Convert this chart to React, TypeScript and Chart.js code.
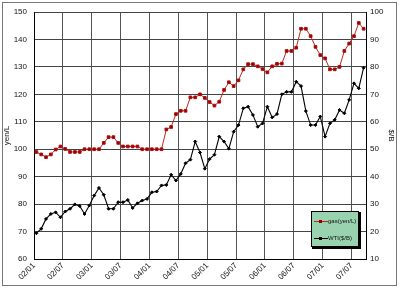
import React, { useEffect, useRef } from "react";
import { Chart, registerables } from "chart.js";

Chart.register(...registerables);

const xLabels = ["02/01", "02/07", "03/01", "03/07", "04/01", "04/07", "05/01", "05/07", "06/01", "06/07", "07/01", "07/07"];

const gasoline = [
  99.0, 98.1, 97.1, 98.1, 99.9, 101.0, 100.1, 99.0, 99.0, 99.0, 100.0, 100.0,
  100.0, 100.0, 102.3, 104.4, 104.4, 102.3, 101.0, 101.0, 101.0, 101.0, 100.0, 100.0,
  100.0, 100.0, 100.0, 107.2, 108.1, 112.8, 114.0, 114.0, 118.9, 118.9, 120.0, 118.7,
  117.2, 115.9, 117.3, 121.6, 124.4, 123.0, 125.1, 129.1, 131.0, 131.0, 130.2, 129.2,
  128.0, 130.2, 131.1, 131.2, 135.8, 135.8, 137.0, 143.9, 143.9, 141.2, 137.3, 134.3,
  133.1, 129.1, 129.1, 130.0, 135.8, 138.5, 141.2, 146.0, 143.9,
];

const wti = [
  19.4, 21.0, 24.6, 26.4, 27.0, 25.2, 27.3, 28.3, 29.9, 29.3, 26.4, 29.5,
  33.1, 35.9, 33.4, 28.3, 28.3, 30.7, 30.7, 31.5, 28.6, 30.3, 31.3, 31.9,
  34.3, 34.6, 36.8, 37.0, 40.7, 38.6, 41.0, 44.9, 46.2, 52.8, 48.8, 42.9,
  46.4, 48.0, 54.6, 52.8, 50.2, 56.4, 58.8, 64.9, 65.5, 62.5, 58.2, 59.4,
  65.5, 61.6, 62.8, 70.0, 70.9, 70.9, 74.6, 73.0, 63.9, 58.8, 58.8, 61.9,
  54.6, 59.4, 60.7, 64.3, 63.1, 68.0, 74.0, 72.2, 79.7,
];

const seriesNames = ["gas(yen/L)", "WTI($/B)"];
const monthsPerTick = 6;

const FONT = "'Liberation Sans', Arial, sans-serif";

export default function App() {
  const ref = useRef<HTMLCanvasElement | null>(null);

  useEffect(() => {
    document.body.style.margin = "0";
    const canvas = ref.current;
    if (!canvas) return;

    const legendPlugin = {
      id: "boxLegend",
      beforeDraw(chart: any) {
        const { ctx, width, height } = chart;
        ctx.save();
        ctx.fillStyle = "#ffffff";
        ctx.fillRect(0, 0, width, height);
        ctx.strokeStyle = "#777";
        ctx.lineWidth = 1;
        ctx.strokeRect(2.5, 2.5, width - 6, height - 6);
        ctx.restore();
      },
      afterDraw(chart: any) {
        const { ctx, chartArea } = chart;
        const w = 48;
        const h = 36;
        const x = chartArea.right - 7 - w;
        const y = chartArea.bottom - 12 - h;
        ctx.save();
        ctx.fillStyle = "#000";
        ctx.fillRect(x + 1, y + 1, w + 1, h + 1);
        ctx.fillStyle = "#98d2ae";
        ctx.fillRect(x, y, w, h);
        ctx.strokeStyle = "#000";
        ctx.lineWidth = 1;
        ctx.strokeRect(x + 0.5, y + 0.5, w - 1, h - 1);
        const rows = [
          { y: y + 10, color: "#c0281c", marker: "#8b0000", name: seriesNames[0] },
          { y: y + 27, color: "#000", marker: "#000", name: seriesNames[1] },
        ];
        rows.forEach((r) => {
          ctx.strokeStyle = r.color;
          ctx.beginPath();
          ctx.moveTo(x + 3, r.y + 0.5);
          ctx.lineTo(x + 17, r.y + 0.5);
          ctx.stroke();
          ctx.fillStyle = r.marker;
          ctx.fillRect(x + 8, r.y - 1, 3, 3);
          ctx.fillStyle = "#111";
          ctx.font = `6px ${FONT}`;
          ctx.textBaseline = "middle";
          ctx.textAlign = "left";
          ctx.fillText(r.name, x + 17, r.y + 0.5);
        });
        ctx.restore();
      },
    };

    const chart = new Chart(canvas, {
      type: "line",
      data: {
        datasets: [
          {
            label: seriesNames[0],
            data: gasoline.map((v, i) => ({ x: i + 0.5, y: v })),
            yAxisID: "y",
            borderColor: "#c0281c",
            backgroundColor: "#8b0000",
            pointBorderColor: "#b01010",
            pointBackgroundColor: "#8b0000",
            borderWidth: 1,
            pointStyle: "rect",
            pointRadius: 1.9,
            pointBorderWidth: 1,
            tension: 0,
          },
          {
            label: seriesNames[1],
            data: wti.map((v, i) => ({ x: i + 0.5, y: v })),
            yAxisID: "y2",
            borderColor: "#000",
            backgroundColor: "#000",
            pointBorderColor: "#000",
            pointBackgroundColor: "#000",
            borderWidth: 1.1,
            pointStyle: "rectRot",
            pointRadius: 1.5,
            pointBorderWidth: 1,
            tension: 0,
          },
        ],
      },
      options: {
        responsive: false,
        animation: false,
        layout: { padding: { top: 12, left: 0, right: 0, bottom: 0 } },
        plugins: { legend: { display: false }, tooltip: { enabled: false } },
        scales: {
          x: {
            type: "linear",
            position: "bottom",
            min: 0,
            max: 69,
            afterBuildTicks: (scale: any) => {
              scale.ticks = xLabels.map((_, k) => ({ value: k * monthsPerTick }));
            },
            afterFit: (scale: any) => {
              scale.height = 30;
            },
            ticks: {
              autoSkip: false,
              minRotation: 45,
              maxRotation: 45,
              padding: 2,
              color: "#111",
              font: { family: FONT, size: 8 },
              callback: (_v: any, i: number) => xLabels[i],
            },
            grid: { color: "#555", lineWidth: 1, drawTicks: false },
            border: { display: true, color: "#000", width: 1 },
          },
          y: {
            type: "linear",
            position: "left",
            min: 60,
            max: 150,
            afterFit: (scale: any) => {
              scale.width = 34;
            },
            ticks: {
              stepSize: 10,
              padding: 7,
              color: "#111",
              font: { family: FONT, size: 8 },
            },
            title: {
              display: true,
              text: "yen/L",
              color: "#111",
              font: { family: FONT, size: 8 },
              padding: 2,
            },
            grid: { color: "#444", lineWidth: 1, drawTicks: false },
            border: { display: true, color: "#000", width: 1 },
          },
          y2: {
            type: "linear",
            position: "right",
            min: 10,
            max: 100,
            afterFit: (scale: any) => {
              scale.width = 34;
            },
            ticks: {
              stepSize: 10,
              padding: 4,
              color: "#111",
              font: { family: FONT, size: 8 },
            },
            title: {
              display: true,
              text: "$/B",
              color: "#111",
              font: { family: FONT, size: 8 },
              padding: 4,
            },
            grid: { display: false, drawTicks: false },
            border: { display: true, color: "#000", width: 1 },
          },
        },
      },
      plugins: [legendPlugin],
    } as any);

    return () => chart.destroy();
  }, []);

  return (
    <div style={{ width: 400, height: 289 }}>
      <canvas ref={ref} width={400} height={289} style={{ display: "block" }} />
    </div>
  );
}
